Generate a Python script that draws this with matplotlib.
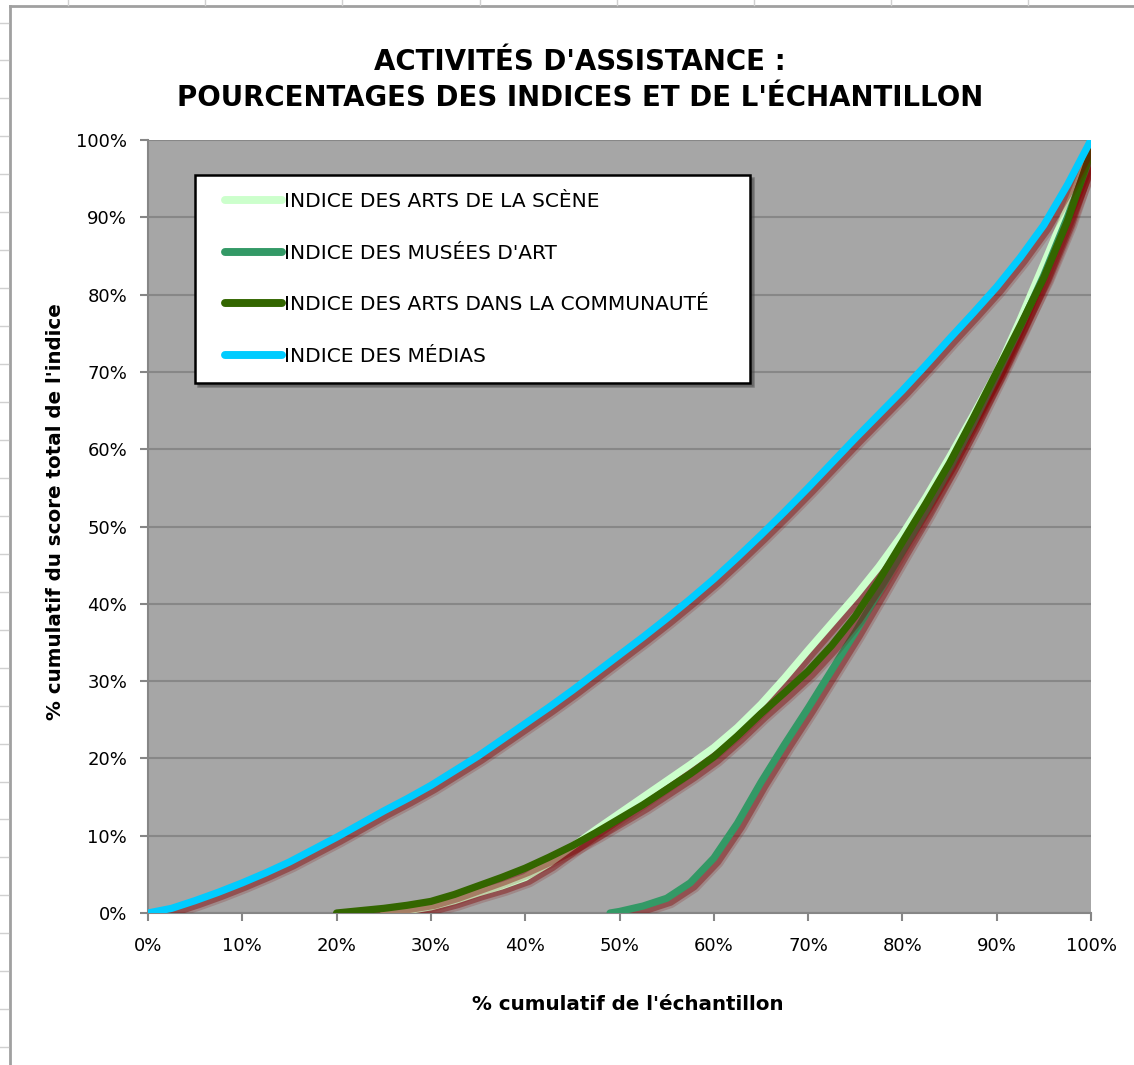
import numpy as np
import matplotlib.pyplot as plt
import matplotlib.patheffects as pe
from matplotlib.lines import Line2D
from matplotlib.legend_handler import HandlerLine2D
from matplotlib.ticker import FuncFormatter

# data (% of sample -> % of index total)
x_scene = [25, 27.5, 30, 32.5, 35, 37.5, 40, 42.5, 45, 47.5, 50, 52.5, 55, 57.5, 60, 62.5, 65,
           67.5, 70, 72.5, 75, 77.5, 80, 82.5, 85, 87.5, 90, 92.5, 95, 97.5, 100]
y_scene = [0, 0.3, 0.8, 1.6, 2.6, 3.5, 4.6, 6.4, 8.6, 10.8, 12.9, 15.0, 17.1, 19.2, 21.4, 24.0, 27.0,
           30.4, 34.0, 37.5, 41.0, 44.8, 49.0, 53.8, 59.0, 64.4, 70.0, 76.8, 84.0, 91.2, 98.5]

x_musees = [49, 50, 52.5, 55, 57.5, 60, 62.5, 65, 67.5, 70, 72.5, 75, 77.5, 80, 82.5, 85,
            87.5, 90, 92.5, 95, 97.5, 100]
y_musees = [0, 0.2, 0.9, 1.9, 3.9, 7.1, 11.6, 16.9, 21.8, 26.5, 31.4, 36.3, 41.5, 46.8, 52.0, 57.5,
            63.3, 69.5, 75.8, 82.5, 90.0, 98.0]

x_commu = [20, 22.5, 25, 27.5, 30, 32.5, 35, 37.5, 40, 42.5, 45, 47.5, 50, 52.5, 55, 57.5, 60,
           62.5, 65, 67.5, 70, 72.5, 75, 77.5, 80, 82.5, 85, 87.5, 90, 92.5, 95, 97.5, 100]
y_commu = [0, 0.3, 0.6, 1.0, 1.5, 2.4, 3.5, 4.6, 5.8, 7.2, 8.7, 10.4, 12.2, 14.0, 16.0, 18.0, 20.2,
           22.9, 25.8, 28.5, 31.3, 34.6, 38.4, 43.0, 48.0, 53.0, 58.2, 64.0, 70.0, 76.0, 82.2, 89.5, 98.5]

x_medias = [0, 2.5, 5, 7.5, 10, 12.5, 15, 17.5, 20, 22.5, 25, 27.5, 30, 32.5, 35, 37.5, 40, 42.5,
            45, 47.5, 50, 52.5, 55, 57.5, 60, 62.5, 65, 67.5, 70, 72.5, 75, 77.5, 80, 82.5, 85,
            87.5, 90, 92.5, 95, 97.5, 100]
y_medias = [0, 0.6, 1.6, 2.7, 3.9, 5.2, 6.6, 8.2, 9.8, 11.5, 13.2, 14.8, 16.5, 18.4, 20.3, 22.4, 24.5, 26.6,
            28.8, 31.1, 33.4, 35.7, 38.1, 40.6, 43.2, 46.0, 48.9, 51.9, 55.0, 58.2, 61.4, 64.5, 67.6, 70.9, 74.3,
            77.6, 81.0, 84.8, 89.0, 94.2, 100]

labels = ["INDICE DES ARTS DE LA SCÈNE", "INDICE DES MUSÉES D'ART",
          "INDICE DES ARTS DANS LA COMMUNAUTÉ", "INDICE DES MÉDIAS"]
colors = ['#ccffcc', '#339966', '#336600', '#00ccff']

W, H = 1134, 1065
fig = plt.figure(figsize=(W / 100, H / 100), dpi=100)
ax = fig.add_axes([148 / W, 1 - 913 / H, 943 / W, 773 / H])
ax.set_facecolor('#a6a6a6')

lw = 5.2
shadow = [pe.SimpleLineShadow(offset=(2.8, -2.8), shadow_color='#800000', alpha=0.18, linewidth=lw + 3.5),
          pe.SimpleLineShadow(offset=(2.8, -2.8), shadow_color='#800000', alpha=0.4, linewidth=lw),
          pe.Normal()]

series = [(x_scene, y_scene), (x_musees, y_musees), (x_commu, y_commu), (x_medias, y_medias)]
for (xs, ys), c in zip(series, colors):
    ax.plot(xs, ys, color=c, lw=lw, solid_capstyle='round', solid_joinstyle='round',
            path_effects=shadow, zorder=3)

ax.set_xlim(0, 100)
ax.set_ylim(0, 100)
ax.set_xticks(np.arange(0, 101, 10))
ax.set_yticks(np.arange(0, 101, 10))
pct = FuncFormatter(lambda v, p: f'{v:.0f}%')
ax.xaxis.set_major_formatter(pct)
ax.yaxis.set_major_formatter(pct)
ax.grid(axis='y', color='#878787', lw=1.5)
ax.set_axisbelow(True)
for s in ['top', 'right']:
    ax.spines[s].set_visible(False)
for s in ['left', 'bottom']:
    ax.spines[s].set_color('#868686')
    ax.spines[s].set_linewidth(1.5)
ax.tick_params(direction='out', length=6, width=1.5, color='#868686', labelsize=13)
ax.tick_params(axis='x', pad=11)
ax.tick_params(axis='y', pad=9)

ax.set_xlabel("% cumulatif de l'échantillon", fontsize=14.3, fontweight='bold', va='center')
ax.xaxis.set_label_coords(0.509, -0.119)
ax.set_ylabel("% cumulatif du score total de l'indice", fontsize=14.3, fontweight='bold', va='center')
ax.yaxis.set_label_coords(-0.0986, 0.519)

fig.text(580 / W, 1 - 80 / H, "ACTIVITÉS D'ASSISTANCE :\nPOURCENTAGES DES INDICES ET DE L'ÉCHANTILLON",
         ha='center', va='center', fontsize=19.9, fontweight='bold', linespacing=1.38)

handles = [Line2D([], [], color=c, lw=lw + 0.5, solid_capstyle='round') for c in colors]
leg = ax.legend(handles, labels, loc='upper left', bbox_to_anchor=(0.0498, 0.9547, 0.5885, 0.0),
                mode='expand', fontsize=14.5, frameon=True, fancybox=False, shadow=True,
                edgecolor='black', facecolor='white', framealpha=1, borderpad=0.85,
                labelspacing=1.62, handlelength=3.45, handletextpad=0.1, borderaxespad=0,
                handler_map={Line2D: HandlerLine2D(xpad=0.65)})
leg.get_frame().set_linewidth(1.8)

# spreadsheet frame around the chart
gray = '#a0a0a0'
fig.add_artist(Line2D([10 / W, 10 / W], [0, 1 - 6 / H], color=gray, lw=2, transform=fig.transFigure))
fig.add_artist(Line2D([10 / W, 1], [1 - 6 / H, 1 - 6 / H], color=gray, lw=2, transform=fig.transFigure))
for cx in [68, 205, 342, 480, 617, 754, 891, 1028]:
    fig.add_artist(Line2D([cx / W, cx / W], [1 - 5 / H, 1], color='#d0d0d0', lw=1, transform=fig.transFigure))
for ry in np.arange(22.5, H, 37.95):
    fig.add_artist(Line2D([0, 8 / W], [1 - ry / H, 1 - ry / H], color='#d0d0d0', lw=1, transform=fig.transFigure))

fig.savefig('out.png', dpi=100)
